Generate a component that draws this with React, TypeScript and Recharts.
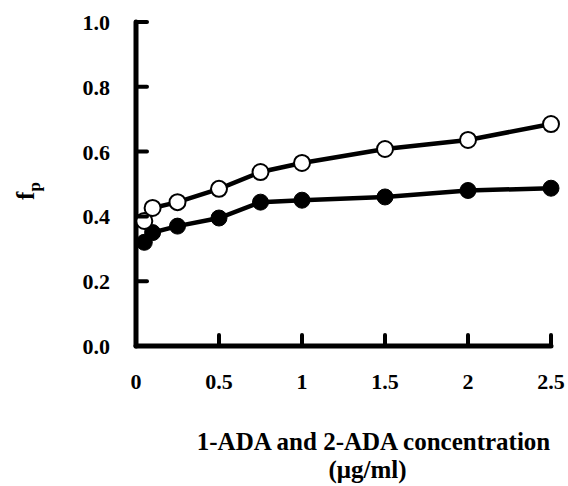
import { Label, Line, LineChart, XAxis, YAxis } from 'recharts';

const concentrations = [0.05, 0.1, 0.25, 0.5, 0.75, 1, 1.5, 2, 2.5];
const openSeries = [0.386, 0.426, 0.444, 0.485, 0.537, 0.565, 0.608, 0.636, 0.685];
const filledSeries = [0.32, 0.35, 0.37, 0.395, 0.444, 0.45, 0.46, 0.48, 0.487];
const xTicks = [0, 0.5, 1, 1.5, 2, 2.5];
const yTicks = [0, 0.2, 0.4, 0.6, 0.8, 1.0];

const data = concentrations.map((c, i) => ({
  conc: c,
  open: openSeries[i],
  filled: filledSeries[i],
}));

const FONT = '"Liberation Serif", "Times New Roman", serif';

function XTick(props: any) {
  const { x, y, payload } = props;
  return (
    <g>
      <path d={`M${x},${y}V${y - 11}`} stroke="#000" strokeWidth={4} strokeLinecap="round" fill="none" />
      <text x={x} y={y + 43} textAnchor="middle" fontFamily={FONT} fontWeight="bold" fontSize={22} fill="#000">
        {String(payload.value)}
      </text>
    </g>
  );
}

function YTick(props: any) {
  const { x, y, payload } = props;
  return (
    <g>
      <path d={`M${x},${y}H${x + 11}`} stroke="#000" strokeWidth={4} strokeLinecap="round" fill="none" />
      <text x={x - 26} y={y + 8} textAnchor="end" fontFamily={FONT} fontWeight="bold" fontSize={22} fill="#000">
        {payload.value.toFixed(1)}
      </text>
    </g>
  );
}

function XLabel({ viewBox }: any) {
  const cx = viewBox.x + viewBox.width / 2 + 30;
  return (
    <text textAnchor="middle" fontFamily={FONT} fontWeight="bold" fontSize={25} fill="#000">
      <tspan x={cx} y={viewBox.y + 104}>1-ADA and 2-ADA concentration</tspan>
      <tspan x={cx - 6} y={viewBox.y + 132}>(μg/ml)</tspan>
    </text>
  );
}

function YLabel() {
  return (
    <text transform="rotate(-90, 26, 187)" x={22} y={195} textAnchor="middle" fontFamily={FONT} fontWeight="bold" fontSize={25} fill="#000">
      f<tspan fontSize={17} dy={6}>p</tspan>
    </text>
  );
}

export default function App() {
  return (
    <div style={{ position: 'absolute', left: 0, top: 0, width: 568, height: 486, background: '#fff' }}>
      <LineChart width={568} height={486} data={data} margin={{ top: 22, right: 17, bottom: 0, left: 0 }}>
        <XAxis
          dataKey="conc"
          type="number"
          domain={[0, 2.5]}
          ticks={xTicks}
          height={140}
          tickSize={0}
          tickMargin={0}
          tick={<XTick />}
          axisLine={{ stroke: '#000', strokeWidth: 5, strokeLinecap: 'round' }}
          tickLine={false}
        >
          <Label content={<XLabel />} />
        </XAxis>
        <YAxis
          type="number"
          domain={[0, 1]}
          ticks={yTicks}
          width={136}
          tickSize={0}
          tickMargin={0}
          tick={<YTick />}
          axisLine={{ stroke: '#000', strokeWidth: 5, strokeLinecap: 'round' }}
          tickLine={false}
        >
          <Label content={<YLabel />} />
        </YAxis>
        <Line
          dataKey="filled"
          stroke="#000"
          strokeWidth={4.5}
          dot={{ r: 8, fill: '#000', stroke: '#000', strokeWidth: 1 }}
          isAnimationActive={false}
        />
        <Line
          dataKey="open"
          stroke="#000"
          strokeWidth={4.5}
          dot={{ r: 8, fill: '#fff', stroke: '#000', strokeWidth: 2 }}
          isAnimationActive={false}
        />
      </LineChart>
    </div>
  );
}
